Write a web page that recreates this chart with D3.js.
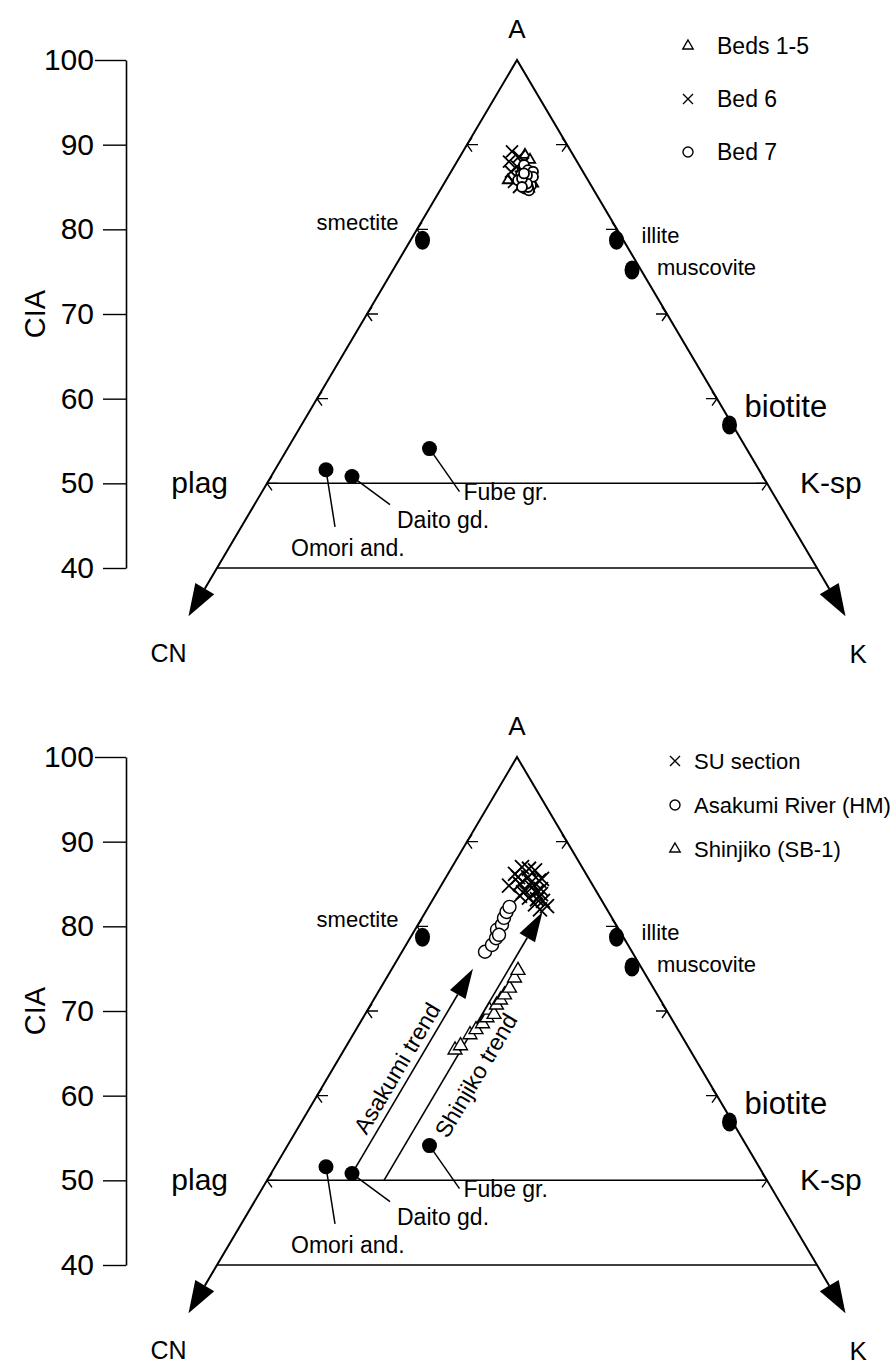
<!DOCTYPE html>
<html>
<head>
<meta charset="utf-8">
<script src="https://cdn.jsdelivr.net/npm/d3@7"></script>
<style>
  body { margin: 0; background: #fff; }
  text { font-family: "Liberation Sans", Arial, sans-serif; fill: #000; }
</style>
</head>
<body>
<svg id="chart" width="893" height="1365"></svg>
<script>
// ---- data: compositions as [A, CN, K] (molar %), A = CIA axis ----
var ciaTicks = [40, 50, 60, 70, 80, 90, 100];
var sideTickLevels = [50, 60, 70, 80, 90];
var guideLevels = [40, 50];

var mineralNames = ["smectite", "illite", "muscovite", "biotite"];
var mineralComp = [[78.7, 20.1, 1.2], [78.7, 0.7, 20.6], [75.2, 0.9, 23.9], [56.9, 0.3, 42.8]];

var rockNames = ["Omori and.", "Daito gd.", "Fube gr."];
var rockComp = [[51.6, 43.3, 5.1], [50.8, 41.1, 8.1], [54.1, 31.7, 14.2]];

var beds15 = [[88.8, 4.8, 6.4], [88.2, 4.6, 7.2], [87.2, 5.9, 6.9], [86.6, 5.2, 8.2],
              [86.0, 6.1, 7.9], [85.4, 5.7, 8.9], [85.8, 8.0, 6.2], [84.8, 6.4, 8.8]];
var bed6 = [[89.2, 5.9, 4.9], [88.6, 5.5, 5.9], [88.0, 6.8, 5.2], [87.4, 6.3, 6.3],
            [86.8, 7.2, 6.0], [86.2, 6.5, 7.3], [85.6, 7.5, 6.9], [85.0, 7.3, 7.7],
            [87.8, 5.5, 6.7], [86.5, 5.8, 7.7]];
var bed7 = [[87.6, 5.5, 6.9], [87.0, 5.4, 7.6], [86.4, 6.4, 7.2], [86.0, 5.7, 8.3],
            [85.6, 6.6, 7.8], [85.2, 6.0, 8.8], [84.8, 6.8, 8.4], [84.6, 6.5, 8.9],
            [85.8, 7.0, 7.2], [86.8, 5.0, 8.2], [86.2, 5.3, 8.5], [85.0, 6.4, 8.6],
            [86.4, 5.8, 7.8], [85.4, 6.3, 8.3], [86.0, 6.5, 7.5], [85.0, 7.0, 8.0],
            [86.6, 6.0, 7.4]];

var suSection = [[87.0, 6.0, 7.0], [86.6, 4.9, 8.5], [86.2, 7.1, 6.7], [85.8, 6.0, 8.2],
                 [85.4, 5.1, 9.5], [85.0, 7.2, 7.8], [84.6, 6.2, 9.2], [84.2, 7.1, 8.7],
                 [83.8, 5.7, 10.5], [83.4, 7.1, 9.5], [83.0, 5.9, 11.1], [82.6, 6.9, 10.5],
                 [82.0, 6.7, 11.3], [84.8, 8.4, 6.8], [85.6, 4.7, 9.7], [83.6, 7.9, 8.5],
                 [86.8, 5.4, 7.8], [84.0, 6.1, 9.9], [85.2, 6.0, 8.8], [84.4, 5.4, 10.2],
                 [83.2, 6.4, 10.4], [85.8, 7.0, 7.2], [84.0, 7.4, 8.6], [82.4, 5.8, 11.8]];
var asakumi = [[77.0, 14.7, 8.3], [77.8, 13.6, 8.6], [78.6, 12.8, 8.6], [79.6, 12.2, 8.2],
               [80.2, 11.4, 8.4], [81.0, 10.8, 8.2], [81.7, 10.2, 8.1], [82.3, 9.6, 8.1],
               [79.0, 12.3, 8.7]];
var shinjiko = [[65.4, 23.5, 11.1], [65.9, 22.7, 11.4], [67.2, 21.1, 11.7], [67.8, 20.2, 12.0],
                [68.5, 19.2, 12.3], [69.2, 18.4, 12.4], [70.1, 17.7, 12.2], [69.6, 17.5, 12.9],
                [70.7, 16.7, 12.6], [71.3, 16.0, 12.7], [71.9, 15.3, 12.8], [72.7, 14.4, 12.9],
                [73.9, 13.3, 12.8], [74.8, 12.5, 12.7]];

var trendNames = ["Asakumi trend", "Shinjiko trend"];
var trendK = [8.1, 11.7];
var trendFromA = [50.8, 50.0];
var trendToA = [75.0, 81.7];

var topLegend = ["Beds 1-5", "Bed 6", "Bed 7"];
var bottomLegend = ["SU section", "Asakumi River (HM)", "Shinjiko (SB-1)"];

// ---- layout ----
var apexX = 517;
var axisX = 126;
var arrowA = 34.3;
var svg = d3.select("#chart");

var crossPath = function (s) { return "M" + -s + "," + -s + "L" + s + "," + s + "M" + -s + "," + s + "L" + s + "," + -s; };
var triPath = function (s) { return "M0," + -s + "L" + (s * 0.866) + "," + (s * 0.5) + "L" + (-s * 0.866) + "," + (s * 0.5) + "Z"; };

// label placement relative to each point: [dx, dy, anchor, font size]
var mineralLabelPos = [[-24, -10, "end", 22], [25, 3, "start", 22], [25, 5, "start", 22], [15, -8, "start", 31]];
// [leader dx, leader dy, text dx, text dy]
var rockLabelPos = [[9, 57, -35, 86], [38, 28, 45, 51], [30, 43, 34, 51]];

function arrowHead(g, tip, from, len, halfW) {
    var dx = tip[0] - from[0], dy = tip[1] - from[1];
    var d = Math.sqrt(dx * dx + dy * dy);
    var ux = dx / d, uy = dy / d;
    var bx = tip[0] - ux * len, by = tip[1] - uy * len;
    g.append("path")
        .attr("d", "M" + tip[0] + "," + tip[1] +
            "L" + (bx - uy * halfW) + "," + (by + ux * halfW) +
            "L" + (bx + uy * halfW) + "," + (by - ux * halfW) + "Z")
        .attr("fill", "#000");
    return [bx, by];
}

function drawPanel(apexY, series, legendNames, leg, trends) {
    var g = svg.append("g");
    var y = d3.scaleLinear().domain([40, 100]).range([apexY + 508, apexY]);
    var x = d3.scaleLinear().domain([-100, 100]).range([apexX - 500, apexX + 500]);
    var pt = function (d) { return [x(d[2] - d[1]), y(d[0])]; };

    // CIA axis
    var axis = g.append("g")
        .attr("transform", "translate(" + axisX + ",0)")
        .call(d3.axisLeft(y).tickValues(ciaTicks).tickSize(23).tickSizeOuter(0).tickPadding(9));
    axis.select(".domain").attr("stroke-width", 1.6);
    axis.selectAll(".tick line").attr("stroke-width", 1.4)
        .attr("x2", function (d) { return d === 100 ? -31 : -23; });
    axis.selectAll(".tick text").style("font-size", "30px").attr("font-family", null);
    g.append("text")
        .attr("transform", "translate(45," + y(70) + ") rotate(-90)")
        .attr("text-anchor", "middle")
        .style("font-size", "29px")
        .text("CIA");

    // triangle sides with arrows to CN and K
    var apex = pt([100, 0, 0]);
    var cnTip = pt([arrowA, 100 - arrowA, 0]);
    var kTip = pt([arrowA, 0, 100 - arrowA]);
    var cnBase = arrowHead(g, cnTip, apex, 32, 11);
    var kBase = arrowHead(g, kTip, apex, 32, 11);
    g.append("path")
        .attr("d", "M" + cnBase[0] + "," + cnBase[1] + "L" + apex[0] + "," + apex[1] + "L" + kBase[0] + "," + kBase[1])
        .attr("fill", "none").attr("stroke", "#000").attr("stroke-width", 2);

    // horizontal guide lines at CIA 40 and 50
    guideLevels.forEach(function (a) {
        var l = pt([a, 100 - a, 0]), r = pt([a, 0, 100 - a]);
        g.append("line").attr("x1", l[0]).attr("x2", r[0]).attr("y1", l[1]).attr("y2", r[1])
            .attr("stroke", "#000").attr("stroke-width", 1.5);
    });

    // small arrow ticks on the sides
    sideTickLevels.forEach(function (a) {
        var l = pt([a, 100 - a, 0]), r = pt([a, 0, 100 - a]);
        g.append("path")
            .attr("d", "M" + (l[0] + 11) + "," + l[1] + "L" + l[0] + "," + l[1] +
                "M" + (l[0] + 5) + "," + (l[1] - 7) + "L" + l[0] + "," + l[1] + "L" + (l[0] + 5) + "," + (l[1] + 7) +
                "M" + (r[0] - 11) + "," + r[1] + "L" + r[0] + "," + r[1] +
                "M" + (r[0] - 5) + "," + (r[1] - 7) + "L" + r[0] + "," + r[1] + "L" + (r[0] - 5) + "," + (r[1] + 7))
            .attr("fill", "none").attr("stroke", "#000").attr("stroke-width", 1.4);
    });

    // corner labels
    g.append("text").attr("x", apex[0]).attr("y", apexY - 22).attr("text-anchor", "middle")
        .style("font-size", "26px").text("A");
    g.append("text").attr("x", cnTip[0] - 2).attr("y", apexY + 602).attr("text-anchor", "end")
        .style("font-size", "25px").text("CN");
    g.append("text").attr("x", kTip[0] + 4).attr("y", apexY + 603).attr("text-anchor", "start")
        .style("font-size", "26px").text("K");
    g.append("text").attr("x", 228).attr("y", y(50) + 10).attr("text-anchor", "end")
        .style("font-size", "30px").text("plag");
    g.append("text").attr("x", 800).attr("y", y(50) + 10).attr("text-anchor", "start")
        .style("font-size", "30px").text("K-sp");

    // trend arrows (bottom panel)
    trends.forEach(function (t) {
        var from = pt([t.from, 100 - t.from - t.k, t.k]);
        var to = pt([t.to, 100 - t.to - t.k, t.k]);
        var base = arrowHead(g, to, from, 30, 9);
        g.append("line").attr("x1", from[0]).attr("y1", from[1]).attr("x2", base[0]).attr("y2", base[1])
            .attr("stroke", "#000").attr("stroke-width", 1.6);
        var ang = Math.atan2(to[1] - from[1], to[0] - from[0]) * 180 / Math.PI;
        var mid = pt([t.labelA, 100 - t.labelA - t.k, t.k]);
        g.append("text")
            .attr("transform", "translate(" + (mid[0] + t.off[0]) + "," + (mid[1] + t.off[1]) + ") rotate(" + ang + ")")
            .attr("text-anchor", "middle")
            .attr("dy", "0.35em")
            .style("font-size", "23px")
            .text(t.name);
    });

    // minerals
    mineralComp.forEach(function (d, i) {
        var p = pt(d);
        g.append("ellipse").attr("cx", p[0]).attr("cy", p[1]).attr("rx", 7.5).attr("ry", 9.5).attr("fill", "#000");
        var lp = mineralLabelPos[i];
        g.append("text").attr("x", p[0] + lp[0]).attr("y", p[1] + lp[1])
            .attr("text-anchor", lp[2]).style("font-size", lp[3] + "px").text(mineralNames[i]);
    });

    // source rocks with leaders
    rockComp.forEach(function (d, i) {
        var p = pt(d);
        var lp = rockLabelPos[i];
        g.append("line").attr("x1", p[0]).attr("y1", p[1]).attr("x2", p[0] + lp[0]).attr("y2", p[1] + lp[1])
            .attr("stroke", "#000").attr("stroke-width", 1.5);
        g.append("circle").attr("cx", p[0]).attr("cy", p[1]).attr("r", 7.5).attr("fill", "#000");
        g.append("text").attr("x", p[0] + lp[2]).attr("y", p[1] + lp[3])
            .style("font-size", "23px").text(rockNames[i]);
    });

    // samples
    series.forEach(function (s) {
        g.append("g").selectAll("path")
            .data(s.data)
            .join("path")
            .attr("transform", function (d) { var p = pt(d); return "translate(" + p[0] + "," + p[1] + ")"; })
            .attr("d", s.shape === "circle" ? d3.symbol(d3.symbolCircle, Math.PI * s.size * s.size)()
                : s.shape === "cross" ? crossPath(s.size) : triPath(s.size))
            .attr("fill", s.shape === "cross" ? "none" : "#fff")
            .attr("stroke", "#000").attr("stroke-width", s.sw);
    });

    // legend
    series.forEach(function (s, i) {
        var ly = leg.y + i * leg.step;
        g.append("path")
            .attr("transform", "translate(" + leg.x + "," + ly + ")")
            .attr("d", s.shape === "circle" ? d3.symbol(d3.symbolCircle, Math.PI * 25)()
                : s.shape === "cross" ? crossPath(5) : triPath(6))
            .attr("fill", "none").attr("stroke", "#000").attr("stroke-width", 1.4);
        g.append("text").attr("x", leg.x + leg.gap).attr("y", ly + 8)
            .style("font-size", leg.font + "px").text(legendNames[i]);
    });
}

drawPanel(60,
    [{ data: beds15, shape: "tri", size: 6, sw: 1.8 },
     { data: bed6, shape: "cross", size: 6, sw: 1.8 },
     { data: bed7, shape: "circle", size: 5, sw: 1.8 }],
    topLegend, { x: 688, y: 46, step: 53, gap: 29, font: 23 }, []);

drawPanel(757,
    [{ data: suSection, shape: "cross", size: 7, sw: 1.8 },
     { data: asakumi, shape: "circle", size: 6.5, sw: 1.4 },
     { data: shinjiko, shape: "tri", size: 8, sw: 1.4 }],
    bottomLegend, { x: 675, y: 761, step: 44, gap: 19, font: 22 },
    [{ name: trendNames[0], k: trendK[0], from: trendFromA[0], to: trendToA[0], labelA: 63, off: [-16, -2] },
     { name: trendNames[1], k: trendK[1], from: trendFromA[1], to: trendToA[1], labelA: 63, off: [27, 5] }]);
</script>
</body>
</html>
